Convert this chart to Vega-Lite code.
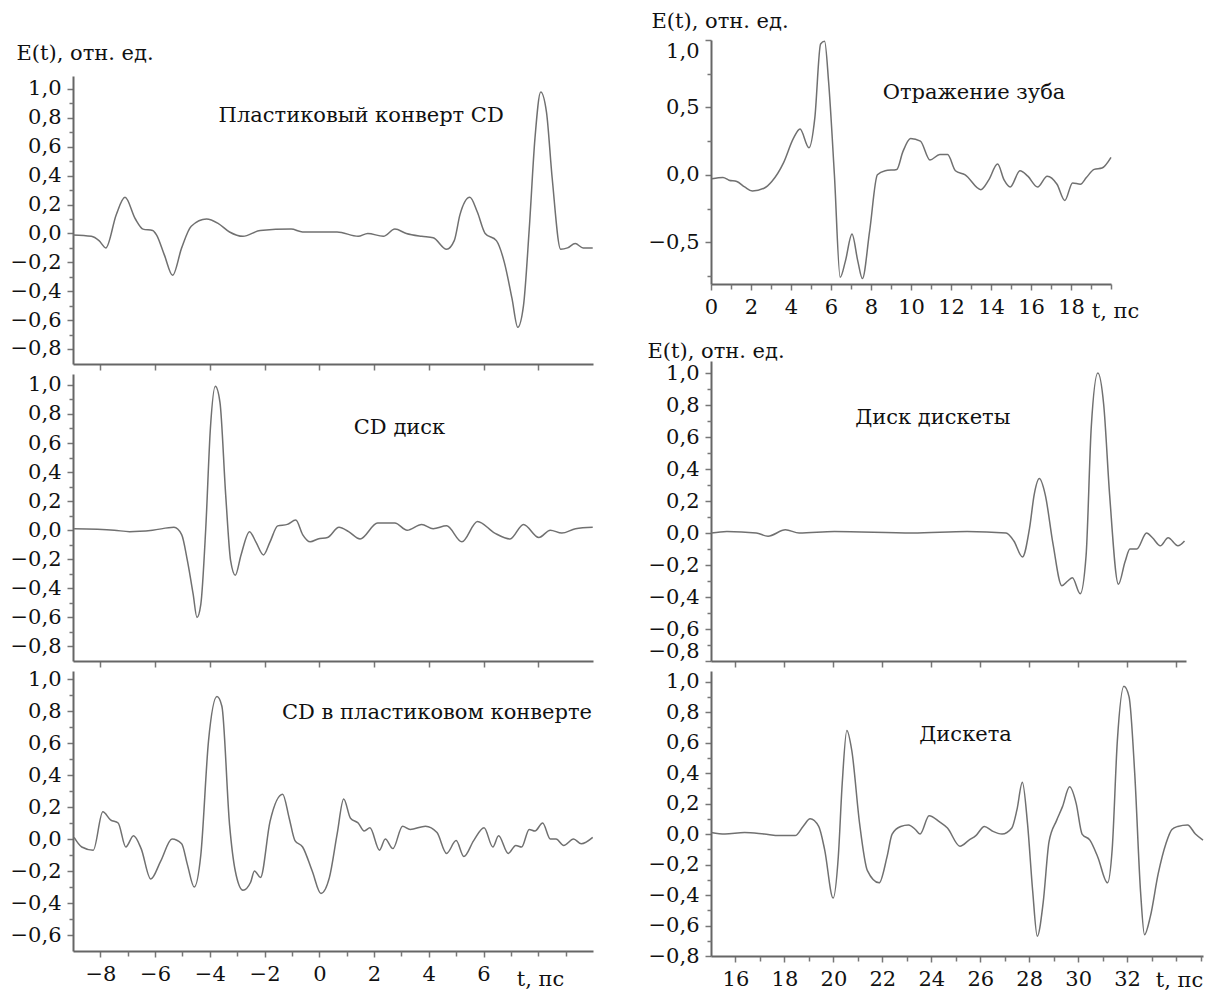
{
  "$schema": "https://vega.github.io/schema/vega-lite/v6.json",
  "padding": {"left": 10, "top": 10, "right": 5, "bottom": 5},
  "background": "white",
  "datasets": {
    "L1": [
      {"t": -9, "E": -0.01}, {"t": -8.33, "E": -0.02}, {"t": -8.05, "E": -0.05}, {"t": -7.8, "E": -0.1},
      {"t": -7.42, "E": 0.13}, {"t": -7.1, "E": 0.25}, {"t": -6.72, "E": 0.1}, {"t": -6.44, "E": 0.03},
      {"t": -6.09, "E": 0.02}, {"t": -5.95, "E": -0.01}, {"t": -5.66, "E": -0.15}, {"t": -5.36, "E": -0.29},
      {"t": -5.03, "E": -0.1}, {"t": -4.68, "E": 0.05}, {"t": -4.12, "E": 0.1}, {"t": -3.7, "E": 0.07},
      {"t": -3.28, "E": 0.01}, {"t": -2.79, "E": -0.02}, {"t": -2.16, "E": 0.02}, {"t": -1.03, "E": 0.03},
      {"t": -0.61, "E": 0.01}, {"t": 0.65, "E": 0.01}, {"t": 1.42, "E": -0.02}, {"t": 1.77, "E": 0.0},
      {"t": 2.34, "E": -0.02}, {"t": 2.76, "E": 0.03}, {"t": 3.18, "E": 0.0}, {"t": 3.74, "E": -0.02},
      {"t": 4.16, "E": -0.03}, {"t": 4.65, "E": -0.11}, {"t": 4.93, "E": -0.05}, {"t": 5.14, "E": 0.13},
      {"t": 5.5, "E": 0.25}, {"t": 5.77, "E": 0.15}, {"t": 6.06, "E": 0.0}, {"t": 6.47, "E": -0.05},
      {"t": 6.76, "E": -0.2}, {"t": 7.04, "E": -0.45}, {"t": 7.25, "E": -0.65}, {"t": 7.46, "E": -0.5},
      {"t": 7.67, "E": 0.03}, {"t": 7.88, "E": 0.66}, {"t": 8.09, "E": 0.98}, {"t": 8.3, "E": 0.84},
      {"t": 8.51, "E": 0.38}, {"t": 8.82, "E": -0.11}, {"t": 9.07, "E": -0.1}, {"t": 9.35, "E": -0.07},
      {"t": 9.64, "E": -0.1}, {"t": 9.99, "E": -0.1}
    ],
    "L2": [
      {"t": -8.96, "E": 0.01}, {"t": -7.49, "E": 0.0}, {"t": -6.93, "E": -0.01}, {"t": -6.09, "E": 0.0},
      {"t": -5.31, "E": 0.02}, {"t": -5.03, "E": -0.03}, {"t": -4.82, "E": -0.21}, {"t": -4.61, "E": -0.44},
      {"t": -4.47, "E": -0.6}, {"t": -4.33, "E": -0.51}, {"t": -4.15, "E": 0.01}, {"t": -3.98, "E": 0.7},
      {"t": -3.8, "E": 0.99}, {"t": -3.63, "E": 0.88}, {"t": -3.42, "E": 0.24}, {"t": -3.24, "E": -0.21},
      {"t": -3.07, "E": -0.31}, {"t": -2.86, "E": -0.17}, {"t": -2.55, "E": -0.01}, {"t": -2.32, "E": -0.08},
      {"t": -2.04, "E": -0.17}, {"t": -1.8, "E": -0.08}, {"t": -1.52, "E": 0.03}, {"t": -1.17, "E": 0.04},
      {"t": -0.86, "E": 0.07}, {"t": -0.61, "E": -0.03}, {"t": -0.33, "E": -0.08}, {"t": -0.05, "E": -0.06},
      {"t": 0.3, "E": -0.05}, {"t": 0.72, "E": 0.02}, {"t": 1.07, "E": -0.01}, {"t": 1.49, "E": -0.06},
      {"t": 2.13, "E": 0.05}, {"t": 2.76, "E": 0.05}, {"t": 3.21, "E": 0.0}, {"t": 3.74, "E": 0.04},
      {"t": 4.16, "E": 0.01}, {"t": 4.65, "E": 0.03}, {"t": 5.21, "E": -0.08}, {"t": 5.78, "E": 0.06},
      {"t": 6.41, "E": -0.02}, {"t": 6.97, "E": -0.06}, {"t": 7.46, "E": 0.04}, {"t": 8.02, "E": -0.05},
      {"t": 8.44, "E": 0.0}, {"t": 8.86, "E": -0.02}, {"t": 9.36, "E": 0.01}, {"t": 9.99, "E": 0.02}
    ],
    "L3": [
      {"t": -8.96, "E": 0.01}, {"t": -8.68, "E": -0.05}, {"t": -8.26, "E": -0.07}, {"t": -7.91, "E": 0.17},
      {"t": -7.63, "E": 0.12}, {"t": -7.35, "E": 0.1}, {"t": -7.07, "E": -0.05}, {"t": -6.79, "E": 0.02},
      {"t": -6.51, "E": -0.06}, {"t": -6.16, "E": -0.25}, {"t": -5.8, "E": -0.14}, {"t": -5.38, "E": 0.0},
      {"t": -5.03, "E": -0.03}, {"t": -4.82, "E": -0.16}, {"t": -4.57, "E": -0.3}, {"t": -4.33, "E": -0.1},
      {"t": -4.05, "E": 0.61}, {"t": -3.74, "E": 0.89}, {"t": -3.56, "E": 0.83}, {"t": -3.28, "E": 0.09},
      {"t": -3.07, "E": -0.2}, {"t": -2.79, "E": -0.32}, {"t": -2.51, "E": -0.27}, {"t": -2.37, "E": -0.2},
      {"t": -2.15, "E": -0.24}, {"t": -1.8, "E": 0.11}, {"t": -1.34, "E": 0.28}, {"t": -1.1, "E": 0.13},
      {"t": -0.89, "E": -0.01}, {"t": -0.61, "E": -0.05}, {"t": -0.26, "E": -0.2}, {"t": 0.06, "E": -0.34},
      {"t": 0.37, "E": -0.24}, {"t": 0.65, "E": 0.03}, {"t": 0.89, "E": 0.25}, {"t": 1.14, "E": 0.13},
      {"t": 1.42, "E": 0.1}, {"t": 1.64, "E": 0.05}, {"t": 1.85, "E": 0.07}, {"t": 2.2, "E": -0.07},
      {"t": 2.41, "E": 0.0}, {"t": 2.69, "E": -0.06}, {"t": 3.04, "E": 0.08}, {"t": 3.32, "E": 0.06},
      {"t": 3.88, "E": 0.08}, {"t": 4.3, "E": 0.04}, {"t": 4.65, "E": -0.09}, {"t": 5.0, "E": -0.01},
      {"t": 5.28, "E": -0.11}, {"t": 5.64, "E": -0.01}, {"t": 6.02, "E": 0.07}, {"t": 6.34, "E": -0.05},
      {"t": 6.55, "E": 0.02}, {"t": 6.9, "E": -0.09}, {"t": 7.18, "E": -0.04}, {"t": 7.39, "E": -0.05},
      {"t": 7.67, "E": 0.06}, {"t": 7.88, "E": 0.05}, {"t": 8.16, "E": 0.1}, {"t": 8.44, "E": 0.0},
      {"t": 8.65, "E": 0.0}, {"t": 8.93, "E": -0.04}, {"t": 9.29, "E": 0.0}, {"t": 9.57, "E": -0.03},
      {"t": 9.99, "E": 0.01}
    ],
    "R1": [
      {"t": 0.05, "E": -0.03}, {"t": 0.6, "E": -0.02}, {"t": 0.9, "E": -0.04}, {"t": 1.29, "E": -0.05},
      {"t": 1.68, "E": -0.09}, {"t": 2.07, "E": -0.12}, {"t": 2.65, "E": -0.1}, {"t": 3.04, "E": -0.05},
      {"t": 3.63, "E": 0.09}, {"t": 4.12, "E": 0.27}, {"t": 4.45, "E": 0.34}, {"t": 4.9, "E": 0.2},
      {"t": 5.19, "E": 0.42}, {"t": 5.48, "E": 0.97}, {"t": 5.68, "E": 0.99}, {"t": 5.88, "E": 0.69},
      {"t": 6.17, "E": 0.0}, {"t": 6.46, "E": -0.76}, {"t": 6.72, "E": -0.64}, {"t": 7.05, "E": -0.44},
      {"t": 7.34, "E": -0.64}, {"t": 7.57, "E": -0.77}, {"t": 7.93, "E": -0.42}, {"t": 8.32, "E": 0.0},
      {"t": 8.71, "E": 0.03}, {"t": 9.29, "E": 0.04}, {"t": 9.59, "E": 0.17}, {"t": 9.98, "E": 0.27},
      {"t": 10.47, "E": 0.25}, {"t": 10.95, "E": 0.11}, {"t": 11.44, "E": 0.15}, {"t": 11.83, "E": 0.15},
      {"t": 12.22, "E": 0.03}, {"t": 12.71, "E": 0.0}, {"t": 13.49, "E": -0.11}, {"t": 13.88, "E": -0.04},
      {"t": 14.33, "E": 0.08}, {"t": 14.66, "E": -0.04}, {"t": 14.96, "E": -0.09}, {"t": 15.45, "E": 0.03},
      {"t": 15.84, "E": -0.01}, {"t": 16.33, "E": -0.09}, {"t": 16.81, "E": -0.01}, {"t": 17.3, "E": -0.07},
      {"t": 17.69, "E": -0.19}, {"t": 18.08, "E": -0.06}, {"t": 18.47, "E": -0.07}, {"t": 18.77, "E": -0.02},
      {"t": 19.16, "E": 0.04}, {"t": 19.55, "E": 0.05}, {"t": 20.0, "E": 0.13}
    ],
    "R2": [
      {"t": 15.01, "E": 0.0}, {"t": 15.65, "E": 0.01}, {"t": 16.85, "E": 0.0}, {"t": 17.33, "E": -0.02},
      {"t": 18.04, "E": 0.02}, {"t": 18.6, "E": 0.0}, {"t": 20.04, "E": 0.01}, {"t": 23.23, "E": 0.0},
      {"t": 25.46, "E": 0.01}, {"t": 27.05, "E": 0.0}, {"t": 27.37, "E": -0.05}, {"t": 27.72, "E": -0.15},
      {"t": 28.01, "E": 0.03}, {"t": 28.2, "E": 0.24}, {"t": 28.41, "E": 0.34}, {"t": 28.65, "E": 0.24},
      {"t": 28.97, "E": -0.07}, {"t": 29.33, "E": -0.33}, {"t": 29.57, "E": -0.3}, {"t": 29.76, "E": -0.28},
      {"t": 30.08, "E": -0.38}, {"t": 30.32, "E": -0.14}, {"t": 30.53, "E": 0.66}, {"t": 30.8, "E": 1.0},
      {"t": 31.04, "E": 0.8}, {"t": 31.28, "E": 0.24}, {"t": 31.64, "E": -0.32}, {"t": 31.91, "E": -0.18},
      {"t": 32.11, "E": -0.1}, {"t": 32.39, "E": -0.1}, {"t": 32.79, "E": 0.0}, {"t": 33.03, "E": -0.03},
      {"t": 33.35, "E": -0.08}, {"t": 33.67, "E": -0.03}, {"t": 34.07, "E": -0.08}, {"t": 34.34, "E": -0.05}
    ],
    "R3": [
      {"t": 15.01, "E": 0.01}, {"t": 15.57, "E": 0.0}, {"t": 16.37, "E": 0.01}, {"t": 17.17, "E": 0.0},
      {"t": 17.8, "E": -0.01}, {"t": 18.44, "E": -0.01}, {"t": 18.76, "E": 0.05}, {"t": 19.05, "E": 0.1},
      {"t": 19.4, "E": 0.05}, {"t": 19.64, "E": -0.1}, {"t": 19.99, "E": -0.42}, {"t": 20.2, "E": -0.15},
      {"t": 20.36, "E": 0.33}, {"t": 20.55, "E": 0.68}, {"t": 20.75, "E": 0.55}, {"t": 21.07, "E": 0.07},
      {"t": 21.39, "E": -0.24}, {"t": 21.87, "E": -0.32}, {"t": 22.19, "E": -0.15}, {"t": 22.4, "E": 0.0},
      {"t": 22.75, "E": 0.05}, {"t": 23.07, "E": 0.06}, {"t": 23.35, "E": 0.03}, {"t": 23.54, "E": 0.0},
      {"t": 23.91, "E": 0.12}, {"t": 24.34, "E": 0.08}, {"t": 24.66, "E": 0.04}, {"t": 25.17, "E": -0.08},
      {"t": 25.54, "E": -0.04}, {"t": 25.82, "E": -0.01}, {"t": 26.17, "E": 0.05}, {"t": 26.49, "E": 0.02},
      {"t": 26.89, "E": 0.0}, {"t": 27.29, "E": 0.04}, {"t": 27.5, "E": 0.16}, {"t": 27.72, "E": 0.34},
      {"t": 27.93, "E": 0.07}, {"t": 28.14, "E": -0.37}, {"t": 28.33, "E": -0.67}, {"t": 28.57, "E": -0.45},
      {"t": 28.81, "E": -0.05}, {"t": 29.12, "E": 0.09}, {"t": 29.36, "E": 0.18}, {"t": 29.65, "E": 0.31},
      {"t": 29.92, "E": 0.2}, {"t": 30.16, "E": 0.0}, {"t": 30.48, "E": -0.04}, {"t": 30.8, "E": -0.15},
      {"t": 31.2, "E": -0.32}, {"t": 31.39, "E": -0.1}, {"t": 31.6, "E": 0.61}, {"t": 31.87, "E": 0.97},
      {"t": 32.08, "E": 0.9}, {"t": 32.31, "E": 0.4}, {"t": 32.55, "E": -0.38}, {"t": 32.71, "E": -0.66},
      {"t": 32.95, "E": -0.54}, {"t": 33.27, "E": -0.26}, {"t": 33.59, "E": -0.06}, {"t": 33.83, "E": 0.03},
      {"t": 34.07, "E": 0.05}, {"t": 34.47, "E": 0.06}, {"t": 34.79, "E": 0.0}, {"t": 35.1, "E": -0.04}
    ]
  },
  "hconcat": [
    {
      "vconcat": [
        {
          "width": 520, "height": 26,
          "data": {"values": [{"s": ""}]},
          "mark": {"type": "text"},
          "encoding": {"text": {"field": "s"}}
        },
        {
          "width": 520, "height": 288,
          "resolve": {"axis": {"y": "independent"}},
          "layer": [
            {
              "data": {"name": "L1"},
              "mark": {"type": "line"},
              "encoding": {
                "x": {"field": "t", "type": "quantitative", "scale": {"domain": [-9, 10], "nice": false, "zero": false},
                  "axis": {"values": [-8, -7, -6, -5, -4, -3, -2, -1, 0, 1, 2, 3, 4, 5, 6, 7, 8, 9], "labels": false, "title": null}},
                "y": {"field": "E", "type": "quantitative", "scale": {"domain": [-0.904, 1.09], "nice": false, "zero": false},
                  "axis": {"orient": "left", "values": [-0.8, -0.6, -0.4, -0.2, 0, 0.2, 0.4, 0.6, 0.8, 1.0],
                    "labelExpr": "replace(format(datum.value, '.1f'), '.', ',')",
                    "title": "E(t), отн. ед.", "titleAngle": 0, "titleAlign": "left", "titleBaseline": "middle", "titleX": -57, "titleY": -23}}
              }
            },
            {
              "data": {"values": [{"t": 1.53, "E": 0.81, "label": "Пластиковый конверт CD"}]},
              "mark": {"type": "text"},
              "encoding": {"x": {"field": "t", "type": "quantitative"},
                "y": {"field": "E", "type": "quantitative",
                  "axis": {"orient": "left", "values": [-0.7, -0.5, -0.3, -0.1, 0.1, 0.3, 0.5, 0.7, 0.9], "labels": false, "domain": false, "title": null, "tickSize": 4}},
                "text": {"field": "label"}}
            }
          ]
        },
        {
          "width": 520, "height": 287,
          "resolve": {"axis": {"y": "independent"}},
          "layer": [
            {
              "data": {"name": "L2"},
              "mark": {"type": "line"},
              "encoding": {
                "x": {"field": "t", "type": "quantitative", "scale": {"domain": [-9, 10], "nice": false, "zero": false},
                  "axis": {"values": [-8, -7, -6, -5, -4, -3, -2, -1, 0, 1, 2, 3, 4, 5, 6, 7, 8, 9], "labels": false, "title": null}},
                "y": {"field": "E", "type": "quantitative", "scale": {"domain": [-0.9, 1.075], "nice": false, "zero": false},
                  "axis": {"orient": "left", "values": [-0.8, -0.6, -0.4, -0.2, 0, 0.2, 0.4, 0.6, 0.8, 1.0],
                    "labelExpr": "replace(format(datum.value, '.1f'), '.', ',')", "title": null}}
              }
            },
            {
              "data": {"values": [{"t": 2.93, "E": 0.7, "label": "CD диск"}]},
              "mark": {"type": "text"},
              "encoding": {"x": {"field": "t", "type": "quantitative"},
                "y": {"field": "E", "type": "quantitative",
                  "axis": {"orient": "left", "values": [-0.7, -0.5, -0.3, -0.1, 0.1, 0.3, 0.5, 0.7, 0.9], "labels": false, "domain": false, "title": null, "tickSize": 4}},
                "text": {"field": "label"}}
            }
          ]
        },
        {
          "width": 520, "height": 280,
          "resolve": {"axis": {"x": "independent", "y": "independent"}},
          "layer": [
            {
              "data": {"name": "L3"},
              "mark": {"type": "line"},
              "encoding": {
                "x": {"field": "t", "type": "quantitative", "scale": {"domain": [-9, 10], "nice": false, "zero": false},
                  "axis": {"orient": "bottom", "values": [-8, -6, -4, -2, 0, 2, 4, 6],
                    "labelExpr": "format(datum.value, 'd')",
                    "title": "t, пс", "titleX": 467, "titleY": 28, "titleAlign": "center", "titleBaseline": "middle"}},
                "y": {"field": "E", "type": "quantitative", "scale": {"domain": [-0.7, 1.05], "nice": false, "zero": false},
                  "axis": {"orient": "left", "values": [-0.6, -0.4, -0.2, 0, 0.2, 0.4, 0.6, 0.8, 1.0],
                    "labelExpr": "replace(format(datum.value, '.1f'), '.', ',')", "title": null}}
              }
            },
            {
              "data": {"values": [{"t": 4.3, "E": 0.79, "label": "CD в пластиковом конверте"}]},
              "mark": {"type": "text"},
              "encoding": {
                "x": {"field": "t", "type": "quantitative",
                  "axis": {"orient": "bottom", "values": [-7, -5, -3, -1, 1, 3, 5, 7, 8, 9], "labels": false, "domain": false, "title": null, "tickSize": 5}},
                "y": {"field": "E", "type": "quantitative",
                  "axis": {"orient": "left", "values": [-0.5, -0.3, -0.1, 0.1, 0.3, 0.5, 0.7, 0.9], "labels": false, "domain": false, "title": null, "tickSize": 4}},
                "text": {"field": "label"}}
            }
          ]
        }
      ],
      "spacing": 10,
      "bounds": "flush"
    },
    {
      "vconcat": [
        {
          "width": 400, "height": 244,
          "resolve": {"axis": {"x": "independent", "y": "independent"}},
          "layer": [
            {
              "data": {"name": "R1"},
              "mark": {"type": "line"},
              "encoding": {
                "x": {"field": "t", "type": "quantitative", "scale": {"domain": [0, 20], "nice": false, "zero": false},
                  "axis": {"orient": "bottom", "values": [0, 2, 4, 6, 8, 10, 12, 14, 16, 18],
                    "labelExpr": "format(datum.value, 'd')",
                    "title": "t, пс", "titleX": 404, "titleY": 27, "titleAlign": "center", "titleBaseline": "middle"}},
                "y": {"field": "E", "type": "quantitative", "scale": {"domain": [-0.81, 1.0], "nice": false, "zero": false},
                  "axis": {"orient": "left", "values": [-0.5, 0, 0.5, 1.0], "labelFlush": true,
                    "labelExpr": "replace(format(datum.value, '.1f'), '.', ',')",
                    "title": "E(t), отн. ед.", "titleAngle": 0, "titleAlign": "left", "titleBaseline": "middle", "titleX": -60, "titleY": -19}}
              }
            },
            {
              "data": {"values": [{"t": 13.15, "E": 0.61, "label": "Отражение зуба"}]},
              "mark": {"type": "text"},
              "encoding": {
                "x": {"field": "t", "type": "quantitative",
                  "axis": {"orient": "bottom", "values": [1, 3, 5, 7, 9, 11, 13, 15, 17, 19, 20], "labels": false, "domain": false, "title": null, "tickSize": 5}},
                "y": {"field": "E", "type": "quantitative",
                  "axis": {"orient": "left", "values": [-0.75, -0.25, 0.25, 0.75], "labels": false, "domain": false, "title": null, "tickSize": 4}},
                "text": {"field": "label"}}
            }
          ]
        },
        {
          "width": 400, "height": 57,
          "data": {"values": [{"s": ""}]},
          "mark": {"type": "text"},
          "encoding": {"text": {"field": "s"}}
        },
        {
          "width": 475, "height": 300,
          "resolve": {"axis": {"y": "independent"}},
          "layer": [
            {
              "data": {"name": "R2"},
              "mark": {"type": "line"},
              "encoding": {
                "x": {"field": "t", "type": "quantitative", "scale": {"domain": [15, 34.4], "nice": false, "zero": false},
                  "axis": {"values": [16, 17, 18, 19, 20, 21, 22, 23, 24, 25, 26, 27, 28, 29, 30, 31, 32, 33, 34], "labels": false, "title": null}},
                "y": {"field": "E", "type": "quantitative", "scale": {"domain": [-0.8, 1.075], "nice": false, "zero": false},
                  "axis": {"orient": "left", "values": [-0.8, -0.6, -0.4, -0.2, 0, 0.2, 0.4, 0.6, 0.8, 1.0], "labelFlush": true,
                    "labelExpr": "replace(format(datum.value, '.1f'), '.', ',')",
                    "title": "E(t), отн. ед.", "titleAngle": 0, "titleAlign": "left", "titleBaseline": "middle", "titleX": -64, "titleY": -10}}
              }
            },
            {
              "data": {"values": [{"t": 24.06, "E": 0.72, "label": "Диск дискеты"}]},
              "mark": {"type": "text"},
              "encoding": {"x": {"field": "t", "type": "quantitative"},
                "y": {"field": "E", "type": "quantitative",
                  "axis": {"orient": "left", "values": [-0.7, -0.5, -0.3, -0.1, 0.1, 0.3, 0.5, 0.7, 0.9], "labels": false, "domain": false, "title": null, "tickSize": 4}},
                "text": {"field": "label"}}
            }
          ]
        },
        {
          "width": 492, "height": 285,
          "resolve": {"axis": {"x": "independent", "y": "independent"}},
          "layer": [
            {
              "data": {"name": "R3"},
              "mark": {"type": "line"},
              "encoding": {
                "x": {"field": "t", "type": "quantitative", "scale": {"domain": [15, 35.1], "nice": false, "zero": false},
                  "axis": {"orient": "bottom", "values": [16, 18, 20, 22, 24, 26, 28, 30, 32],
                    "labelExpr": "format(datum.value, 'd')",
                    "title": "t, пс", "titleX": 468, "titleY": 24, "titleAlign": "center", "titleBaseline": "middle"}},
                "y": {"field": "E", "type": "quantitative", "scale": {"domain": [-0.8, 1.07], "nice": false, "zero": false},
                  "axis": {"orient": "left", "values": [-0.8, -0.6, -0.4, -0.2, 0, 0.2, 0.4, 0.6, 0.8, 1.0],
                    "labelExpr": "replace(format(datum.value, '.1f'), '.', ',')", "title": null}}
              }
            },
            {
              "data": {"values": [{"t": 25.4, "E": 0.65, "label": "Дискета"}]},
              "mark": {"type": "text"},
              "encoding": {
                "x": {"field": "t", "type": "quantitative",
                  "axis": {"orient": "bottom", "values": [17, 19, 21, 23, 25, 27, 29, 31, 33, 34, 35], "labels": false, "domain": false, "title": null, "tickSize": 5}},
                "y": {"field": "E", "type": "quantitative",
                  "axis": {"orient": "left", "values": [-0.7, -0.5, -0.3, -0.1, 0.1, 0.3, 0.5, 0.7, 0.9], "labels": false, "domain": false, "title": null, "tickSize": 4}},
                "text": {"field": "label"}}
            }
          ]
        }
      ],
      "spacing": 10,
      "bounds": "flush"
    }
  ],
  "spacing": 51,
  "bounds": "full",
  "config": {
    "view": {"stroke": null},
    "font": "DejaVu Serif",
    "axis": {
      "labelFont": "DejaVu Serif", "labelFontSize": 21, "labelColor": "#111",
      "domainColor": "#666", "domainWidth": 2, "tickColor": "#777", "tickWidth": 1.5, "tickSize": 6,
      "labelPadding": 6, "grid": false, "labelOverlap": false, "labelFlush": false, "labelBound": false,
      "titleFont": "DejaVu Serif", "titleFontWeight": "normal", "titleFontSize": 21, "titleColor": "#111"
    },
    "line": {"color": "#707070", "strokeWidth": 1.5, "interpolate": "monotone"},
    "text": {"font": "DejaVu Serif", "fontSize": 21, "color": "#111"}
  }
}
